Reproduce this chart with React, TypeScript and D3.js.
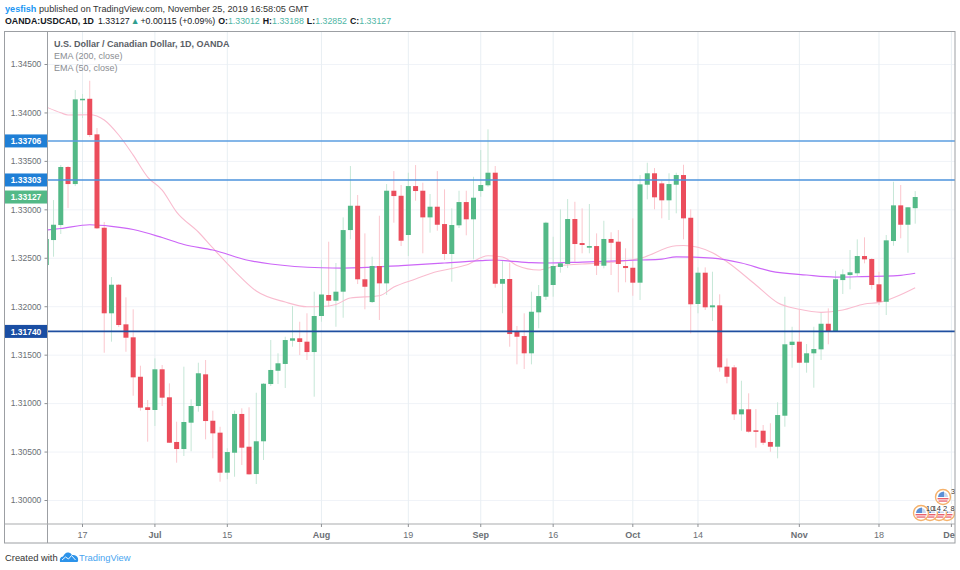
import React from "react";
import * as d3 from "d3";

const opens = [1.32425,1.32683,1.32838,1.33437,1.33261,1.34131,1.34141,1.33774,1.32810,1.31927,
1.32222,1.31813,1.31679,1.31272,1.30957,1.30929,1.31349,1.31060,1.30599,1.30526,
1.30798,1.30970,1.31297,1.30818,1.30695,1.30282,1.30488,1.30888,1.30550,1.30268,
1.30606,1.31197,1.31334,1.31404,1.31644,1.31669,1.31634,1.31527,1.31899,1.32116,
1.32057,1.32150,1.32786,1.33037,1.32278,1.32043,1.32415,1.32236,1.33192,1.33140,
1.32735,1.33240,1.33192,1.32917,1.33027,1.32848,1.32539,1.32835,1.33075,1.32897,
1.33189,1.33248,1.33378,1.32232,1.32281,1.31744,1.31692,1.31514,1.31937,1.32098,
1.32219,1.32405,1.32436,1.32900,1.32652,1.32604,1.32621,1.32418,1.32694,1.32666,
1.32415,1.32397,1.32243,1.33254,1.33372,1.33268,1.33093,1.33254,1.33354,1.32913,
1.32023,1.32346,1.31989,1.32009,1.31376,1.31369,1.30884,1.30936,1.30719,1.30715,
1.30599,1.30550,1.30870,1.31600,1.31634,1.31417,1.31514,1.31555,1.31819,1.31737,
1.32270,1.32322,1.32340,1.32518,1.32487,1.32226,1.32046,1.32673,1.33041,1.32841,1.33012];
const highs = [1.32838,1.33096,1.33457,1.33447,1.34231,1.34190,1.34327,1.33839,1.32869,1.32301,
1.32229,1.32092,1.31968,1.31386,1.31032,1.31462,1.31393,1.31204,1.30808,1.31376,
1.31039,1.31417,1.31445,1.30922,1.30756,1.30534,1.30922,1.30946,1.30957,1.31107,
1.31207,1.31651,1.31514,1.31685,1.32002,1.31840,1.31927,1.32150,1.32477,1.32666,
1.32446,1.32917,1.33447,1.33148,1.32752,1.32511,1.32934,1.33261,1.33395,1.33251,
1.33378,1.33457,1.33275,1.33158,1.33395,1.33206,1.33010,1.33192,1.33192,1.33336,
1.33612,1.33826,1.33447,1.32477,1.32449,1.31796,1.31927,1.32150,1.32219,1.32872,
1.32717,1.33000,1.33106,1.33078,1.33010,1.33055,1.32752,1.32882,1.32763,1.32786,
1.32598,1.32907,1.33354,1.33481,1.33426,1.33295,1.33372,1.33378,1.33460,1.33000,
1.32401,1.32401,1.32356,1.32123,1.31462,1.31393,1.31231,1.31101,1.30939,1.30774,
1.30792,1.31008,1.32098,1.31788,1.31968,1.31610,1.31788,1.31933,1.31978,1.32366,
1.32381,1.32580,1.32690,1.32711,1.32497,1.32356,1.32735,1.33285,1.33251,1.33024,1.33188];
const lows = [1.32400,1.32511,1.32745,1.33013,1.33240,1.33942,1.33746,1.32797,1.31520,1.31634,
1.31785,1.31530,1.31076,1.30922,1.30602,1.30764,1.30970,1.30588,1.30385,1.30454,
1.30503,1.30911,1.30626,1.30430,1.30189,1.30214,1.30240,1.30361,1.30261,1.30165,
1.30413,1.31176,1.31197,1.31156,1.31582,1.31496,1.31445,1.31066,1.31840,1.31995,
1.31788,1.31881,1.32690,1.32229,1.31968,1.32033,1.31858,1.32116,1.32862,1.32621,
1.32518,1.33089,1.32546,1.32759,1.32779,1.32477,1.32253,1.32807,1.32732,1.32484,
1.33130,1.33233,1.32191,1.31927,1.31582,1.31400,1.31352,1.31400,1.31772,1.32064,
1.32098,1.32346,1.32394,1.32459,1.32546,1.32546,1.32322,1.32391,1.32322,1.32143,
1.32247,1.32108,1.32064,1.33103,1.33000,1.32907,1.32890,1.32959,1.32690,1.31720,
1.31927,1.31961,1.31847,1.31324,1.31204,1.30826,1.30715,1.30695,1.30540,1.30568,
1.30498,1.30430,1.30756,1.31365,1.31411,1.31314,1.31159,1.31445,1.31607,1.31734,
1.32126,1.32174,1.32312,1.32443,1.32174,1.32012,1.31909,1.32624,1.32701,1.32552,1.32852];
const closes = [1.32694,1.32841,1.33437,1.33261,1.34135,1.34141,1.33767,1.32804,1.31927,1.32222,
1.31806,1.31675,1.31266,1.30953,1.30929,1.31349,1.31056,1.30591,1.30526,1.30805,
1.30970,1.31308,1.30815,1.30688,1.30282,1.30495,1.30888,1.30540,1.30265,1.30606,
1.31200,1.31342,1.31411,1.31651,1.31669,1.31631,1.31527,1.31899,1.32121,1.32057,
1.32150,1.32786,1.33037,1.32278,1.32201,1.32415,1.32236,1.33192,1.33137,1.32676,
1.33240,1.33189,1.32917,1.33027,1.32841,1.32539,1.32838,1.33075,1.32897,1.33120,
1.33251,1.33378,1.32232,1.32281,1.31713,1.31685,1.31514,1.31943,1.32105,1.32862,
1.32415,1.32443,1.32900,1.32642,1.32632,1.32621,1.32418,1.32694,1.32655,1.32436,
1.32394,1.32243,1.33258,1.33372,1.33124,1.33093,1.33261,1.33354,1.32907,1.32020,
1.32346,1.31989,1.32009,1.31369,1.31272,1.30884,1.30936,1.30705,1.30705,1.30591,
1.30550,1.30877,1.31607,1.31634,1.31417,1.31514,1.31558,1.31819,1.31737,1.32278,
1.32329,1.32350,1.32518,1.32484,1.32219,1.32046,1.32680,1.33041,1.32841,1.33021,1.33127];

const ema200Bars = [0,2,6,9,12,16,19,23,28,31,38,41,49,55,60,62,64,67,69,74,82,85,87,92,96,100,105,109,112,118,120];
const ema200Values = [1.32786,1.32802,1.32841,1.32825,1.32792,1.32709,1.32637,1.32580,1.32472,1.32436,1.32397,1.32394,1.32420,1.32446,1.32470,1.32477,1.32466,1.32449,1.32446,1.32456,1.32477,1.32487,1.32509,1.32497,1.32446,1.32363,1.32322,1.32301,1.32304,1.32319,1.32340];
const ema50Bars = [0,2,3,6,8,10,12,14,16,18,21,23,26,29,33,36,38,40,42,46,48,51,54,56,58,61,63,65,68,70,74,76,82,87,88,92,94,98,101,104,107,110,113,115,120];
const ema50Values = [1.34056,1.33997,1.33973,1.33976,1.33922,1.33767,1.33560,1.33333,1.33199,1.32972,1.32766,1.32601,1.32363,1.32157,1.32043,1.31995,1.31997,1.32018,1.32085,1.32108,1.32198,1.32281,1.32358,1.32389,1.32425,1.32521,1.32508,1.32420,1.32374,1.32408,1.32436,1.32443,1.32494,1.32624,1.32626,1.32552,1.32459,1.32219,1.32036,1.31968,1.31937,1.31961,1.32023,1.32040,1.32191];

const priceTicks = [1.30, 1.305, 1.31, 1.315, 1.32, 1.325, 1.33, 1.335, 1.34, 1.345];
const timeTickBars = [5, 15, 25, 38, 50, 60, 70, 81, 90, 104, 115, 125];
const timeTickLabels = ["17", "Jul", "15", "Aug", "19", "Sep", "16", "Oct", "14", "Nov", "18", "Dec"];
const monthLabels = ["Jul", "Aug", "Sep", "Oct", "Nov", "Dec"];
const levelPrices = [1.33706, 1.33303, 1.3174];
const levelColors = ["#5b9ee1", "#4c93dd", "#1f4fa0"];
const levelLabelFills = ["#1f7fd6", "#1f7fd6", "#1a4ea3"];
const lastPrice = 1.33127;
const FONT = "'Liberation Sans', Arial, sans-serif";

const x = d3.scaleLinear().domain([5, 120]).range([82.5, 915.2]);
const y = d3.scaleLinear().domain([1.3, 1.345]).range([500, 64]);
const L = 47.5, R = 955, T = 31.5, B = 524, OUTB = 543;

function emaPath(bars: number[], vals: number[]) {
  return d3.line<number>().x((b) => x(b)).y((_, i) => y(vals[i])).curve(d3.curveMonotoneX)(bars) as string;
}

function Flag({ cx, cy }: { cx: number; cy: number }) {
  return (
    <g>
      <circle cx={cx} cy={cy} r={7.5} fill="#fff" stroke="#f5b26b" strokeWidth={1.4} />
      <path d={`M${cx - 5.5} ${cy + 1}h11v1.4h-11z`} fill="#e9606c" />
      <path d={`M${cx - 4.5} ${cy + 3.4}h9v1.3h-9z`} fill="#e9606c" />
      <path d={`M${cx - 5} ${cy}a6 6 0 0 1 6 -5.6v5.6z`} fill="#5b8fd6" />
      <path d={`M${cx + 1} ${cy - 5}a6 6 0 0 1 4 5h-4z`} fill="#c9d8ee" />
    </g>
  );
}

export default function App() {
  const barIdx = d3.range(opens.length);
  const fmt = d3.format(".5f");
  return (
    <svg width={960} height={570} style={{ position: "absolute", left: 0, top: 0, background: "#fff" }} fontFamily={FONT}>
      <defs>
        <clipPath id="pane"><rect x={L + 0.5} y={T} width={R - L - 0.5} height={B - T} /></clipPath>
        <clipPath id="axisx"><rect x={L} y={B} width={R - L} height={OUTB - B} /></clipPath>
      </defs>
      <text x={5} y={12} fontSize={9.15} fill="#333">
        <tspan fill="#2196f3" fontWeight={700}>yesfish</tspan>
        <tspan> published on TradingView.com, November 25, 2019 16:58:05 GMT</tspan>
      </text>
      <text x={5} y={24} fontSize={8.8} fill="#131722">
        <tspan fontWeight={700}>OANDA:USDCAD, 1D</tspan>
        <tspan dx={4}>1.33127</tspan>
        <tspan dx={1} fill="#2f9e8f">▲</tspan>
        <tspan dx={1}>+0.00115 (+0.09%)</tspan>
        <tspan dx={3} fontWeight={700}>O:</tspan><tspan fill="#4fb6a5">1.33012</tspan>
        <tspan dx={3} fontWeight={700}>H:</tspan><tspan fill="#4fb6a5">1.33188</tspan>
        <tspan dx={3} fontWeight={700}>L:</tspan><tspan fill="#4fb6a5">1.32852</tspan>
        <tspan dx={3} fontWeight={700}>C:</tspan><tspan fill="#4fb6a5">1.33127</tspan>
      </text>

      {priceTicks.map((p) => (
        <line key={p} x1={L} x2={R} y1={y(p) + 0.5} y2={y(p) + 0.5} stroke="#f0f3f8" />
      ))}
      {timeTickBars.map((b) => (
        <line key={b} x1={x(b)} x2={x(b)} y1={T} y2={B} stroke="#e8eff3" />
      ))}

      <g clipPath="url(#pane)">
        {barIdx.map((i) => (
          <line key={i} x1={x(i)} x2={x(i)} y1={y(highs[i])} y2={y(lows[i])}
            stroke={closes[i] >= opens[i] ? "#c6e7d7" : "#fbc6cd"} strokeWidth={1} />
        ))}
        <path d={emaPath(ema50Bars, ema50Values)} fill="none" stroke="#f9bccf" strokeWidth={1.1} />
        <path d={emaPath(ema200Bars, ema200Values)} fill="none" stroke="#cc66f7" strokeWidth={1.2} />
        {barIdx.map((i) => {
          const top = y(Math.max(opens[i], closes[i]));
          const bot = y(Math.min(opens[i], closes[i]));
          return (
            <rect key={i} x={x(i) - 2.5} width={5} y={top} height={Math.max(1.5, bot - top)}
              fill={closes[i] >= opens[i] ? "#53b987" : "#eb4d5c"} />
          );
        })}
        {levelPrices.map((p, i) => (
          <line key={p} x1={L} x2={R} y1={y(p)} y2={y(p)} stroke={levelColors[i]} strokeWidth={i === 2 ? 1.7 : 1.4} />
        ))}
        <Flag cx={947} cy={513} />
        <Flag cx={939} cy={513} />
        <Flag cx={930} cy={513} />
        <rect x={925.5} y={504} width={29} height={7.5} fill="#fff" />
        <Flag cx={921} cy={513} />
        <Flag cx={943} cy={497} />
        <text x={951} y={494} fontSize={7.5} fill="#333">3</text>
        <text x={926} y={510.8} fontSize={7.5} fill="#333">10</text>
        <text x={932.5} y={510.8} fontSize={7.5} fill="#333">14</text>
        <text x={943} y={510.8} fontSize={7.5} fill="#333">2</text>
        <text x={950.5} y={510.8} fontSize={7.5} fill="#333">8</text>
      </g>

      <rect x={4.5} y={T} width={R - 4.5} height={OUTB - T} fill="none" stroke="#9c9fa3" />
      <line x1={L} x2={L} y1={T} y2={OUTB} stroke="#9c9fa3" />
      <line x1={4.5} x2={R} y1={B} y2={B} stroke="#a9abae" strokeWidth={1.2} />

      {priceTicks.map((p) => (
        <g key={p}>
          <line x1={L - 3} x2={L} y1={y(p) + 0.5} y2={y(p) + 0.5} stroke="#8e9195" />
          <text x={26} y={y(p) + 3.3} textAnchor="middle" fontSize={8.5} fill="#6b6f75">{fmt(p)}</text>
        </g>
      ))}
      {levelPrices.map((p, i) => (
        <g key={p}>
          <rect x={5} y={y(p) - 6.5} width={42} height={13} fill={levelLabelFills[i]} />
          <text x={26} y={y(p) + 3.3} textAnchor="middle" fontSize={8.5} fill="#fff" fontWeight={700}>{fmt(p)}</text>
        </g>
      ))}
      <rect x={5} y={y(lastPrice) - 6.5} width={42} height={13} fill="#53b987" />
      <text x={26} y={y(lastPrice) + 3.3} textAnchor="middle" fontSize={8.5} fill="#fff" fontWeight={700}>{fmt(lastPrice)}</text>

      <g clipPath="url(#axisx)">
        {timeTickBars.map((b, i) => (
          <g key={b}>
            <line x1={x(b)} x2={x(b)} y1={B} y2={B + 3} stroke="#8e9195" />
            <text x={x(b)} y={538} textAnchor="middle" fontSize={9} fill="#6b6f75"
              fontWeight={monthLabels.includes(timeTickLabels[i]) ? 700 : 400}>{timeTickLabels[i]}</text>
          </g>
        ))}
      </g>

      <text x={54} y={46.5} fontSize={9} fontWeight={700} fill="#5a5e66">U.S. Dollar / Canadian Dollar, 1D, OANDA</text>
      <text x={54} y={58.5} fontSize={9} fill="#8a8d92">EMA (200, close)</text>
      <text x={54} y={70.5} fontSize={9} fill="#8a8d92">EMA (50, close)</text>

      <text x={5} y={561} fontSize={9.4} fill="#333">Created with</text>
      <path d="M60 562 q-1 -5 3 -5.5 q2.5 -4.5 5 -4 q2.5 -0.5 4 2.5 q5 -0.5 6 3.5 q0.5 3.5 -1 3.5z" fill="#2c93ea" />
      <path d="M62 560 l3.5 -3 l3 2 l3 -3.5 l4 4.5" fill="none" stroke="#fff" strokeWidth={0.9} />
      <text x={79} y={561} fontSize={9.4} fill="#4aa5f0">TradingView</text>
    </svg>
  );
}
